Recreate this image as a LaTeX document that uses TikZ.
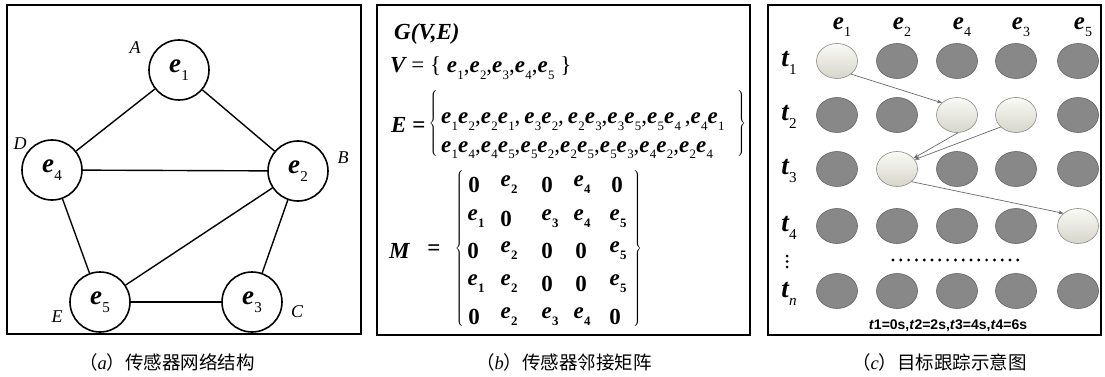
\documentclass[tikz,border=0pt]{standalone}
\usepackage{fontspec}
\setmainfont{Liberation Serif}
\newfontfamily\cjk{Noto Sans CJK SC}
\newfontfamily\arialf{Liberation Sans}
\usetikzlibrary{shapes.geometric,arrows.meta}
\makeatletter
\newcommand\subs[1]{\raisebox{-0.3em}{\fontsize{\the\dimexpr 0.56\dimexpr\f@size pt\relax\relax}{1pt}\selectfont #1}}
\makeatother
\newcommand\ee[1]{{\bfseries\itshape e}\kern0.3pt\subs{#1}}
\newcommand\tv[1]{{\bfseries\itshape t}\kern0.3pt\subs{#1}}
\definecolor{dkfill}{RGB}{136,136,136}
\definecolor{dkline}{RGB}{100,100,100}
\definecolor{ltop}{RGB}{250,250,246}
\definecolor{lbot}{RGB}{214,213,203}
\definecolor{lline}{RGB}{140,140,132}
\definecolor{arrc}{RGB}{105,105,105}
\begin{document}
\begin{tikzpicture}[x=1pt,y=-1pt,
  panelframe/.style={draw,line width=1.6pt},
  vtx/.style={circle,draw,line width=1.6pt,minimum size=60pt,inner sep=0pt,font=\fontsize{27}{27}\selectfont},
  link/.style={line width=1.4pt},
  lab/.style={inner sep=0pt,font=\fontsize{18}{18}\selectfont\itshape},
  captxt/.style={anchor=west,inner sep=0pt,font=\fontsize{18.5}{18.5}\selectfont\cjk},
  txt/.style={anchor=base west,inner sep=0pt,font=\fontsize{23}{23}\selectfont},
  brc/.style={inner sep=0pt},
  ent/.style={inner sep=0pt,font=\fontsize{23}{23}\selectfont\bfseries},
  dk/.style={ellipse,draw=dkline,fill=dkfill,line width=0.6pt,minimum width=41pt,minimum height=35pt,inner sep=0pt},
  lt/.style={ellipse,draw=lline,top color=ltop,bottom color=lbot,line width=0.6pt,minimum width=41pt,minimum height=35pt,inner sep=0pt},
  hdr/.style={inner sep=0pt,font=\fontsize{25}{25}\selectfont},
  rowl/.style={inner sep=0pt,font=\fontsize{27}{27}\selectfont},
  arr/.style={draw=arrc,line width=0.7pt,-{Stealth[length=5pt,width=4pt]}}
]
\useasboundingbox (0,0) rectangle (1105,377);

% ---------- panel (a)
\draw[panelframe] (7,5) rectangle (361,334);
\node[vtx] (e1) at (179,70) {\ee1};
\node[vtx] (e4) at (52,170) {\ee4};
\node[vtx] (e2) at (298,171) {\ee2};
\node[vtx] (e5) at (100,302) {\ee5};
\node[vtx] (e3) at (252,302) {\ee3};
\draw[link] (e1) -- (e4);
\draw[link] (e1) -- (e2);
\draw[link] (e4) -- (e2);
\draw[link] (e4) -- (e5);
\draw[link] (e2) -- (e5);
\draw[link] (e2) -- (e3);
\draw[link] (e5) -- (e3);
\node[lab] (lA) at (135,48) {A};
\node[lab] (lD) at (20,144) {D};
\node[lab] (lB) at (343,158) {B};
\node[lab] (lE) at (57,317) {E};
\node[lab] (lC) at (297,312) {C};
\node[captxt] (capa) at (79,362) {（{\rmfamily\itshape a}）传感器网络结构};

% ---------- panel (b)
\draw[panelframe] (377,5) rectangle (750,335);
\node[txt] (G) at (394,40) {\bfseries\itshape G(V,E)};
\node[txt] (V) at (390,73) {{\bfseries\itshape V} = \{ \ee1,\ee2,\ee3,\ee4,\ee5 \}};
\node[txt] (Eq) at (391,132) {{\bfseries\itshape E} \textbf{=}};
\node[brc] (lbE) at (434,124) {$\left\{\vrule height 31pt depth 31pt width 0pt\right.$};
\node[txt] (E1) at (441,124) {\ee1\ee2,\ee2\ee1,\,\ee3\ee2,\,\ee2\ee3,\ee3\ee5,\ee5\ee4\,,\ee4\ee1};
\node[txt] (E2) at (441,152) {\ee1\ee4,\ee4\ee5,\ee5\ee2,\ee2\ee5,\ee5\ee3,\ee4\ee2,\ee2\ee4};
\node[brc] (rbE) at (741,124) {$\left.\vrule height 31pt depth 31pt width 0pt\right\}$};
\node[txt] (M) at (389,258) {\bfseries\itshape M};
\node[ent] (Meq) at (434,250) {=};
\node[brc] (lbM) at (460,250) {$\left\{\vrule height 78pt depth 78pt width 0pt\right.$};
\node[brc] (rbM) at (637,250) {$\left.\vrule height 78pt depth 78pt width 0pt\right\}$};
\foreach \c/\x/\t in {1/474/0,2/509/\ee2,3/547/0,4/582/\ee4,5/617/0}
  \node[ent] (m1\c) at (\x,185) {\t};
\foreach \c/\x/\t in {1/476/\ee1,2/506/0,3/550/\ee3,4/582/\ee4,5/618/\ee5}
  \node[ent] (m2\c) at (\x,219) {\t};
\foreach \c/\x/\t in {1/473/0,2/509/\ee2,3/547/0,4/581/0,5/618/\ee5}
  \node[ent] (m3\c) at (\x,251) {\t};
\foreach \c/\x/\t in {1/476/\ee1,2/509/\ee2,3/547/0,4/581/0,5/618/\ee5}
  \node[ent] (m4\c) at (\x,284) {\t};
\foreach \c/\x/\t in {1/474/0,2/509/\ee2,3/550/\ee3,4/582/\ee4,5/615/0}
  \node[ent] (m5\c) at (\x,317) {\t};
\node[captxt] (capb) at (476,362) {（{\rmfamily\itshape b}）传感器邻接矩阵};

% ---------- panel (c)
\draw[panelframe] (768,5) rectangle (1101,335);
\foreach \c/\x/\t in {1/842/1,2/902/2,3/962/4,4/1021/3,5/1083/5}
  \node[hdr] (h\c) at (\x,27) {\ee{\t}};
\node[rowl] (t1) at (789,63) {\tv1};
\node[rowl] (t2) at (789,117) {\tv2};
\node[rowl] (t3) at (789,171) {\tv3};
\node[rowl] (t4) at (789,228) {\tv4};
\node[rowl] (tn) at (789,294) {\tv{\itshape n}};
% row 1
\node[lt] (r1c1) at (837,61) {};
\node[dk] (r1c2) at (897,61) {};
\node[dk] (r1c3) at (957,61) {};
\node[dk] (r1c4) at (1016,61) {};
\node[dk] (r1c5) at (1078,61) {};
% row 2
\node[dk] (r2c1) at (837,115) {};
\node[dk] (r2c2) at (897,115) {};
\node[lt] (r2c3) at (957,115) {};
\node[lt] (r2c4) at (1016,115) {};
\node[dk] (r2c5) at (1078,115) {};
% row 3
\node[dk] (r3c1) at (837,169) {};
\node[lt] (r3c2) at (897,169) {};
\node[dk] (r3c3) at (957,169) {};
\node[dk] (r3c4) at (1016,169) {};
\node[dk] (r3c5) at (1078,169) {};
% row 4
\node[dk] (r4c1) at (837,226) {};
\node[dk] (r4c2) at (897,226) {};
\node[dk] (r4c3) at (957,226) {};
\node[dk] (r4c4) at (1016,226) {};
\node[lt] (r4c5) at (1078,226) {};
% row n
\node[dk] (r5c1) at (837,291) {};
\node[dk] (r5c2) at (897,291) {};
\node[dk] (r5c3) at (957,291) {};
\node[dk] (r5c4) at (1016,291) {};
\node[dk] (r5c5) at (1078,291) {};
% arrows
\draw[arr] (r1c1.-43) -- (r2c3.141);
\draw[arr] (r2c3.-87) -- (r3c2.33);
\draw[arr] (r2c4.-142) -- (r3c2.28);
\draw[arr] (r3c2.-41) -- (r4c5.139);
% dots
\foreach \i in {0,...,16}
  \fill ({893+\i*7.8},260) circle (1.6pt);
\foreach \j in {256,261.5,267}
  \fill (787,\j) circle (1.5pt);
\node[inner sep=0pt,font=\fontsize{14}{14}\selectfont\arialf\bfseries] (tl) at (948,326) {\textit{t}1=0s,\textit{t}2=2s,\textit{t}3=4s,\textit{t}4=6s};
\node[captxt] (capc) at (852,362) {（{\rmfamily\itshape c}）目标跟踪示意图};
\end{tikzpicture}
\end{document}
